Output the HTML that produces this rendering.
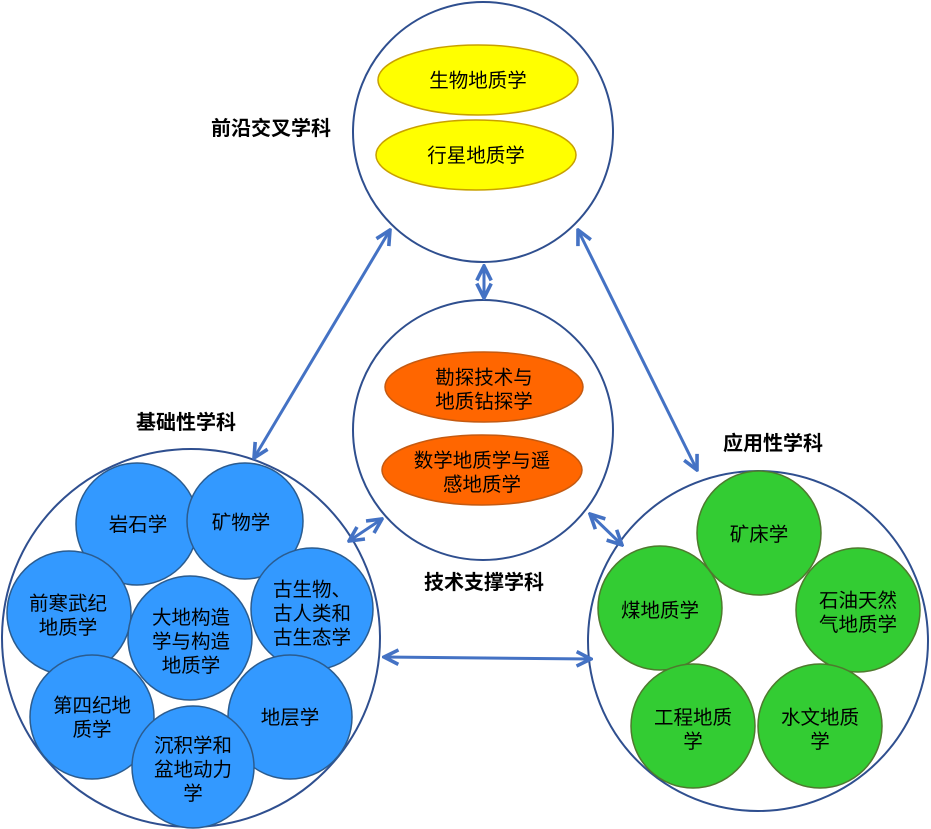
<!DOCTYPE html>
<html><head><meta charset="utf-8"><style>
html,body{margin:0;padding:0;background:#fff;}
svg{display:block;}
text{font-family:"Liberation Sans","Noto Sans CJK SC",sans-serif;font-size:19.5px;fill:#000;text-anchor:middle;}
.b{font-weight:bold;font-size:20px;}
.blue{fill:#3399FF;stroke:#2B5C8F;stroke-width:1.5;}
.green{fill:#33CC33;stroke:#4E7A2E;stroke-width:1.5;}
.big{fill:none;stroke:#2F4F8F;stroke-width:2;}
.ar{stroke:#4472C4;stroke-width:3;fill:none;marker-start:url(#m);marker-end:url(#m);}
</style></head><body>
<svg width="931" height="829" viewBox="0 0 931 829" xmlns="http://www.w3.org/2000/svg">
<defs>
<marker id="m" viewBox="0 0 10 10" refX="9" refY="5" markerWidth="6" markerHeight="6" orient="auto-start-reverse" markerUnits="strokeWidth">
<path d="M1,1 L9,5 L1,9" fill="none" stroke="#4472C4" stroke-width="2"/>
</marker>
</defs>
<rect width="931" height="829" fill="#fff"/>
<circle class="big" cx="483" cy="132" r="130"/>
<circle class="big" cx="483" cy="430" r="130"/>
<circle class="big" cx="191" cy="638" r="189"/>
<circle class="big" cx="758" cy="641" r="170"/>
<line class="ar" x1="390" y1="230" x2="254" y2="458"/>
<line class="ar" x1="578" y1="230" x2="697" y2="470"/>
<line class="ar" x1="484" y1="266" x2="484" y2="298"/>
<line class="ar" x1="382" y1="519" x2="349" y2="541"/>
<line class="ar" x1="590" y1="514" x2="622" y2="545"/>
<line class="ar" x1="384" y1="657" x2="591" y2="659"/>
<ellipse cx="478" cy="80" rx="100" ry="35" fill="#FFFF00" stroke="#C8A000" stroke-width="1.5"/>
<text x="478" y="87">生物地质学</text>
<ellipse cx="476" cy="155" rx="100" ry="35" fill="#FFFF00" stroke="#C8A000" stroke-width="1.5"/>
<text x="476" y="162">行星地质学</text>
<ellipse cx="484" cy="387" rx="99" ry="35" fill="#FF6600" stroke="#C55A11" stroke-width="1.5"/>
<text x="484" y="384">勘探技术与</text><text x="484" y="408">地质钻探学</text>
<ellipse cx="482" cy="470" rx="100" ry="35" fill="#FF6600" stroke="#C55A11" stroke-width="1.5"/>
<text x="482" y="467">数学地质学与遥</text><text x="482" y="491">感地质学</text>
<text class="b" x="271" y="135">前沿交叉学科</text>
<text class="b" x="186" y="429">基础性学科</text>
<text class="b" x="773" y="450">应用性学科</text>
<text class="b" x="484" y="589">技术支撑学科</text>
<circle class="blue" cx="137" cy="524" r="61"/>
<circle class="blue" cx="245" cy="521" r="58"/>
<circle class="blue" cx="69" cy="613" r="62"/>
<circle class="blue" cx="190" cy="638" r="62"/>
<circle class="blue" cx="312" cy="609" r="61"/>
<circle class="blue" cx="92" cy="717" r="62"/>
<circle class="blue" cx="290" cy="717" r="62"/>
<circle class="blue" cx="193" cy="767" r="61"/>
<text x="138" y="531">岩石学</text>
<text x="241" y="529">矿物学</text>
<text x="68" y="610">前寒武纪</text><text x="68" y="634">地质学</text>
<text x="191" y="624">大地构造</text><text x="191" y="648">学与构造</text><text x="191" y="672">地质学</text>
<text x="312" y="596">古生物、</text><text x="312" y="620">古人类和</text><text x="312" y="644">古生态学</text>
<text x="92" y="712">第四纪地</text><text x="92" y="736">质学</text>
<text x="290" y="724">地层学</text>
<text x="193" y="752">沉积学和</text><text x="193" y="776">盆地动力</text><text x="193" y="800">学</text>
<circle class="green" cx="759" cy="533" r="62"/>
<circle class="green" cx="660" cy="608" r="62"/>
<circle class="green" cx="858" cy="610" r="62"/>
<circle class="green" cx="693" cy="726" r="62"/>
<circle class="green" cx="820" cy="726" r="62"/>
<text x="759" y="541">矿床学</text>
<text x="660" y="617">煤地质学</text>
<text x="858" y="607">石油天然</text><text x="858" y="631">气地质学</text>
<text x="693" y="724">工程地质</text><text x="693" y="748">学</text>
<text x="820" y="724">水文地质</text><text x="820" y="748">学</text>
</svg>
</body></html>
